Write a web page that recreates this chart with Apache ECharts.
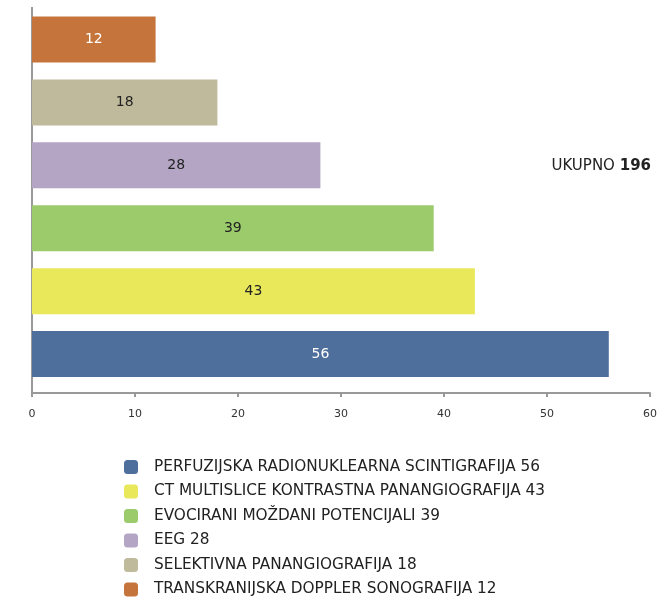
<!DOCTYPE html>
<html><head><meta charset="utf-8">
<script src="https://cdn.jsdelivr.net/npm/echarts@6/dist/echarts.min.js"></script>
<style>html,body{margin:0;padding:0;background:#fff}#c{width:666px;height:605px}</style>
</head><body><div id="c"></div>
<script>
const categories = [
  'PERFUZIJSKA RADIONUKLEARNA SCINTIGRAFIJA',
  'CT MULTISLICE KONTRASTNA PANANGIOGRAFIJA',
  'EVOCIRANI MOŽDANI POTENCIJALI',
  'EEG',
  'SELEKTIVNA PANANGIOGRAFIJA',
  'TRANSKRANIJSKA DOPPLER SONOGRAFIJA'
];
const values = [56, 43, 39, 28, 18, 12];
const colors = ['#4e6e9c', '#e9e85b', '#9bcb6b', '#b3a5c3', '#bfba9c', '#c5753b'];
const labelColors = ['#ffffff', '#222222', '#222222', '#222222', '#222222', '#ffffff'];
const totalLabel = 'UKUPNO';
const total = 196;
const xTicks = { min: 0, max: 60, interval: 10 };

const FONT = 'DejaVu Sans';
const chart = echarts.init(document.getElementById('c'));
const series = categories.map((name, i) => ({
  name: name,
  type: 'bar',
  stack: 'all',
  barWidth: 46,
  data: categories.map((c, j) => (j === i ? values[i] : '-')),
  itemStyle: { color: colors[i] },
  label: { show: true, position: 'inside', color: labelColors[i], fontFamily: FONT, fontSize: 14 },
  emphasis: { disabled: true }
}));
chart.setOption({
  animation: false,
  grid: { left: 32, right: 16, top: 8, height: 377.5, containLabel: false },
  xAxis: {
    type: 'value', min: xTicks.min, max: xTicks.max, interval: xTicks.interval, offset: 7.5,
    axisLine: { show: true, lineStyle: { color: '#999', width: 2 } },
    axisTick: { show: true, length: 4, lineStyle: { color: '#999', width: 2 } },
    splitLine: { show: false },
    axisLabel: { color: '#333', fontFamily: 'DejaVu Sans', fontSize: 11, margin: 15.5 }
  },
  yAxis: {
    type: 'category', data: categories,
    axisLine: { show: false }, axisTick: { show: false }, axisLabel: { show: false }
  },
  legend: {
    orient: 'vertical', left: 124, top: 459.5, height: 300, padding: 0,
    itemWidth: 14, itemHeight: 14, itemGap: 9.5,
    icon: 'roundRect',
    data: categories,
    formatter: function (n) { return n + ' ' + values[categories.indexOf(n)]; },
    textStyle: { color: '#222', fontFamily: FONT, fontSize: 15.3, padding: [0, 0, 0, 11] }
  },
  graphic: [
    { type: 'line', shape: { x1: 32, y1: 7, x2: 32, y2: 393 }, style: { stroke: '#999', lineWidth: 2 }, silent: true },
    { type: 'text', x: 651, y: 166, style: {
        text: '{a|' + totalLabel + ' }{b|' + total + '}',
        align: 'right', verticalAlign: 'middle',
        rich: {
          a: { fontFamily: FONT, fontSize: 15, fill: '#222' },
          b: { fontFamily: FONT, fontSize: 15, fontWeight: 'bold', fill: '#222' }
        }
      } }
  ],
  series: series
});
</script></body></html>
